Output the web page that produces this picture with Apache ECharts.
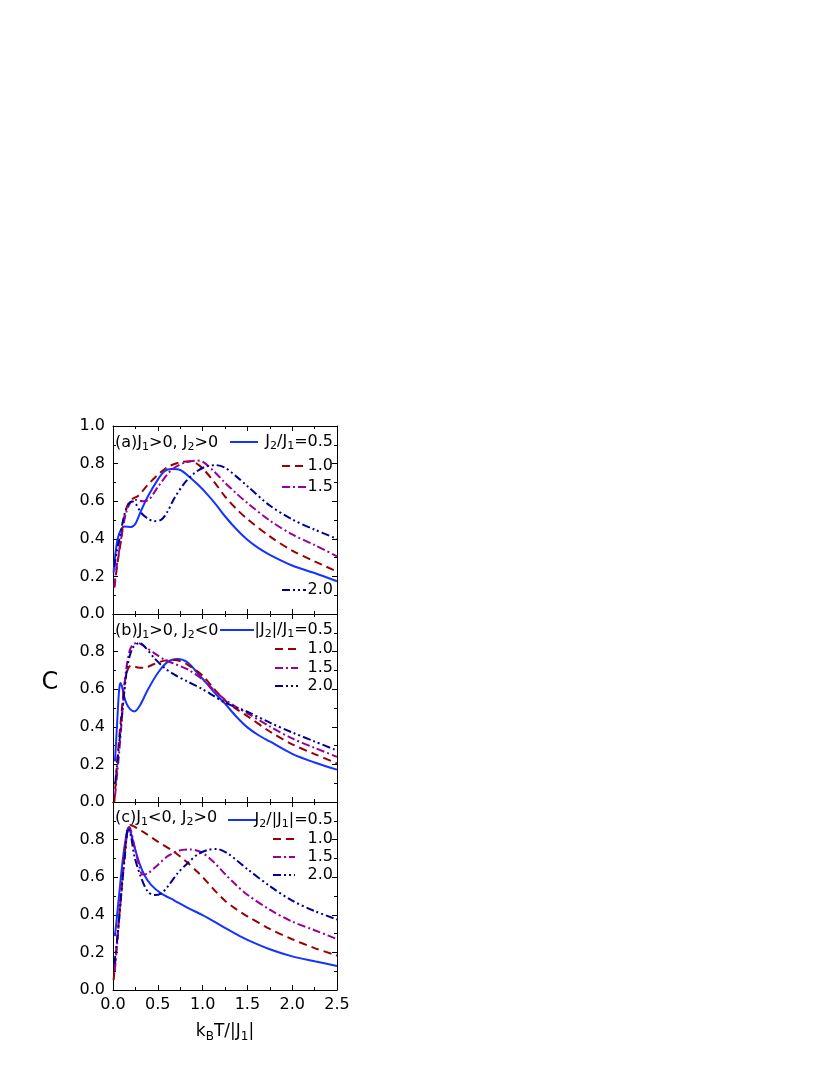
<!DOCTYPE html>
<html><head><meta charset="utf-8">
<script src="https://cdn.jsdelivr.net/npm/echarts@6/dist/echarts.min.js"></script>
<style>html,body{margin:0;padding:0;background:#fff}#c{width:830px;height:1075px}</style>
</head><body><div id="c"></div>
<script>
// ---- data: [k_B T/|J1|, C] ----
// panel (a) J1>0, J2>0
const a05 = [[0.007,0.22],[0.02,0.29],[0.05,0.395],[0.09,0.45],[0.13,0.465],[0.2,0.463],[0.25,0.48],[0.31,0.546],[0.39,0.626],[0.5,0.715],[0.575,0.759],[0.65,0.771],[0.75,0.766],[0.85,0.73],[0.95,0.687],[1.05,0.638],[1.15,0.582],[1.25,0.52],[1.375,0.452],[1.5,0.395],[1.625,0.35],[1.75,0.315],[2.0,0.258],[2.25,0.218],[2.5,0.174]];
const a10 = [[0.015,0.14],[0.05,0.27],[0.09,0.395],[0.127,0.52],[0.164,0.58],[0.22,0.613],[0.28,0.628],[0.39,0.688],[0.5,0.74],[0.61,0.782],[0.74,0.806],[0.87,0.812],[0.95,0.795],[1.0,0.775],[1.125,0.705],[1.25,0.625],[1.375,0.56],[1.5,0.505],[1.75,0.413],[2.0,0.337],[2.25,0.28],[2.5,0.226]];
const a15 = [[0.015,0.147],[0.04,0.25],[0.07,0.34],[0.108,0.449],[0.145,0.537],[0.2,0.596],[0.26,0.607],[0.33,0.6],[0.4,0.608],[0.5,0.675],[0.65,0.765],[0.8,0.805],[0.93,0.816],[1.0,0.81],[1.125,0.76],[1.25,0.698],[1.375,0.642],[1.5,0.59],[1.75,0.497],[2.0,0.423],[2.25,0.367],[2.5,0.307]];
const a20 = [[0.015,0.25],[0.04,0.33],[0.07,0.395],[0.127,0.528],[0.18,0.59],[0.22,0.598],[0.26,0.582],[0.31,0.54],[0.39,0.507],[0.46,0.494],[0.54,0.502],[0.61,0.546],[0.686,0.617],[0.8,0.697],[0.91,0.75],[1.03,0.783],[1.15,0.792],[1.25,0.778],[1.375,0.732],[1.5,0.68],[1.75,0.577],[2.0,0.503],[2.25,0.449],[2.5,0.4]];
// panel (b) J1>0, J2<0
const b05 = [[0.022,0.216],[0.045,0.41],[0.067,0.589],[0.082,0.633],[0.1,0.615],[0.125,0.56],[0.15,0.525],[0.19,0.494],[0.24,0.482],[0.295,0.509],[0.39,0.598],[0.5,0.686],[0.61,0.745],[0.72,0.76],[0.835,0.742],[0.95,0.682],[1.05,0.628],[1.15,0.573],[1.25,0.523],[1.375,0.455],[1.5,0.397],[1.625,0.355],[1.75,0.322],[2.0,0.256],[2.25,0.21],[2.5,0.172]];
const b10 = [[0.015,0.0],[0.05,0.234],[0.09,0.447],[0.127,0.624],[0.164,0.704],[0.2,0.726],[0.276,0.716],[0.35,0.714],[0.46,0.734],[0.574,0.752],[0.686,0.755],[0.835,0.73],[1.0,0.672],[1.125,0.603],[1.25,0.54],[1.375,0.495],[1.5,0.457],[1.75,0.375],[2.0,0.307],[2.25,0.255],[2.5,0.205]];
const b15 = [[0.022,0.03],[0.07,0.27],[0.108,0.5],[0.145,0.695],[0.183,0.8],[0.22,0.837],[0.276,0.846],[0.35,0.828],[0.46,0.792],[0.574,0.757],[0.686,0.735],[0.835,0.705],[1.0,0.652],[1.125,0.596],[1.25,0.545],[1.375,0.505],[1.5,0.472],[1.75,0.402],[2.0,0.338],[2.25,0.288],[2.5,0.24]];
const b20 = [[0.025,0.1],[0.09,0.41],[0.127,0.589],[0.164,0.73],[0.22,0.82],[0.295,0.846],[0.35,0.828],[0.46,0.766],[0.574,0.713],[0.686,0.677],[0.835,0.64],[1.0,0.6],[1.125,0.564],[1.25,0.528],[1.375,0.503],[1.5,0.48],[1.75,0.422],[2.0,0.37],[2.25,0.322],[2.5,0.274]];
// panel (c) J1<0, J2>0
const c05 = [[0.022,0.287],[0.07,0.514],[0.108,0.69],[0.145,0.816],[0.17,0.865],[0.2,0.833],[0.24,0.762],[0.295,0.674],[0.35,0.612],[0.425,0.559],[0.537,0.514],[0.686,0.476],[0.835,0.437],[1.0,0.398],[1.125,0.365],[1.25,0.33],[1.375,0.297],[1.5,0.267],[1.75,0.217],[2.0,0.179],[2.25,0.153],[2.5,0.128]];
const c10 = [[0.007,0.053],[0.05,0.284],[0.09,0.514],[0.127,0.709],[0.164,0.851],[0.194,0.878],[0.24,0.869],[0.35,0.837],[0.5,0.789],[0.65,0.745],[0.8,0.69],[0.95,0.625],[1.05,0.575],[1.15,0.522],[1.25,0.475],[1.375,0.43],[1.5,0.392],[1.75,0.325],[2.0,0.27],[2.25,0.223],[2.5,0.183]];
const c15 = [[0.02,0.1],[0.05,0.27],[0.09,0.5],[0.127,0.7],[0.16,0.84],[0.183,0.869],[0.21,0.83],[0.24,0.762],[0.295,0.656],[0.33,0.614],[0.388,0.62],[0.5,0.665],[0.61,0.712],[0.74,0.742],[0.86,0.748],[0.985,0.733],[1.125,0.68],[1.25,0.617],[1.375,0.558],[1.5,0.507],[1.75,0.427],[2.0,0.364],[2.25,0.318],[2.5,0.271]];
const c20 = [[0.015,0.14],[0.05,0.284],[0.09,0.5],[0.13,0.7],[0.17,0.86],[0.2,0.82],[0.24,0.709],[0.31,0.603],[0.388,0.523],[0.46,0.505],[0.54,0.514],[0.61,0.55],[0.72,0.62],[0.835,0.676],[0.947,0.722],[1.06,0.745],[1.16,0.75],[1.275,0.728],[1.39,0.686],[1.5,0.643],[1.75,0.553],[2.0,0.475],[2.25,0.42],[2.5,0.375]];

const panelData = [[a05,a10,a15,a20],[b05,b10,b15,b20],[c05,c10,c15,c20]];
const panelTitles = ['(a)J{s|1}>0, J{s|2}>0','(b)J{s|1}>0, J{s|2}<0','(c)J{s|1}<0, J{s|2}>0'];
const legendFirst = ['J{s|2}/J{s|1}=0.5','|J{s|2}|/J{s|1}=0.5','J{s|2}/|J{s|1}|=0.5'];
const ratioLabels = ['0.5','1.0','1.5','2.0'];

// ---- styles / layout ----
const FONT = 'DejaVu Sans, Liberation Sans, Arial, sans-serif';
const styles = [
  {color:'#1433ff', dash:'solid'},
  {color:'#990000', dash:[8,5]},
  {color:'#990099', dash:[8,3,2,3]},
  {color:'#000099', dash:[8,3,2,3,2,3]}
];
const L = 113, W = 224, H = 188, tops = [426, 614, 802];
const rich = {s:{fontSize:11, fontFamily:FONT, padding:[9,0,0,0], color:'#000'}};
const richBig = {s:{fontSize:12, fontFamily:FONT, padding:[10,0,0,0], color:'#000'}};

const grids = [], xAxes = [], yAxes = [], series = [];
const black = {color:'#000', width:1};
for (let i = 0; i < 3; i++) {
  grids.push({left:L, top:tops[i], width:W, height:H, outerBoundsMode:'none', containLabel:false});
  const tickCfg = {inside:true, length:5, lineStyle:black};
  const minorCfg = {show:true, splitNumber:2, length:3, lineStyle:black};
  xAxes.push({type:'value', gridIndex:i, position:'bottom', min:0, max:2.5, interval:0.5,
    axisLine:{onZero:false, lineStyle:black}, axisTick:tickCfg, minorTick:minorCfg,
    splitLine:{show:false}, minorSplitLine:{show:false},
    axisLabel:{show:i===2, color:'#000', fontSize:16, fontFamily:FONT, margin:7, formatter:v=>v.toFixed(1)},
    name: i===2 ? 'k{s|B}T/|J{s|1}|' : '', nameLocation:'middle', nameGap:31,
    nameTextStyle:{color:'#000', fontSize:17, fontFamily:FONT, rich:richBig}});
  xAxes.push({type:'value', gridIndex:i, position:'top', min:0, max:2.5, interval:0.5,
    axisLine:{onZero:false, lineStyle:black}, axisTick:tickCfg, minorTick:minorCfg,
    splitLine:{show:false}, axisLabel:{show:false}});
  yAxes.push({type:'value', gridIndex:i, position:'left', min:0, max:1, interval:0.2,
    axisLine:{onZero:false, lineStyle:black}, axisTick:tickCfg, minorTick:minorCfg,
    splitLine:{show:false}, minorSplitLine:{show:false},
    axisLabel:{color:'#000', fontSize:16, fontFamily:FONT, margin:8, showMaxLabel:i===0, showMinLabel:true, formatter:v=>v.toFixed(1)}});
  yAxes.push({type:'value', gridIndex:i, position:'right', min:0, max:1, interval:0.2,
    axisLine:{onZero:false, lineStyle:black}, axisTick:tickCfg, minorTick:minorCfg,
    splitLine:{show:false}, axisLabel:{show:false}});
  panelData[i].forEach((d, k) => {
    series.push({type:'line', xAxisIndex:2*i, yAxisIndex:2*i, data:d, showSymbol:false, symbol:'none',
      smooth:0.3, silent:true, animation:false, z:3+k,
      lineStyle:{color:styles[k].color, width:2, type:styles[k].dash, cap:'butt'}});
  });
}

// ---- in-panel labels and legends (graphic) ----
const graphics = [];
function txt(x, y, text, align, size) {
  graphics.push({type:'text', x:x, y:y, z:20, style:{text:text, font: (size||16)+'px '+FONT, fill:'#000',
    align:align, textAlign:align, verticalAlign:'middle', textVerticalAlign:'middle', rich:rich}});
}
function sample(x1, x2, y, k) {
  const st = styles[k];
  graphics.push({type:'line', z:20, shape:{x1:x1, y1:y, x2:x2, y2:y},
    style:{stroke:st.color, lineWidth:2, lineDash: Array.isArray(st.dash) ? st.dash : null, lineCap:'butt'}});
}
const titleY = [443, 631, 818];
panelTitles.forEach((t, i) => txt(115, titleY[i], t, 'left', 16));
const legendRows = [
  [[442,230,258],[466,282,306],[487,282,306],[590,282,306]],
  [[630,220,254],[649,275,298],[668,275,298],[686,275,298]],
  [[820,228,257],[839,273,295],[857,273,295],[875,273,295]]
];
legendRows.forEach((rows, i) => rows.forEach((r, k) => {
  sample(r[1], r[2], r[0], k);
  txt(333, r[0], k === 0 ? legendFirst[i] : ratioLabels[k], 'right', 16);
}));
// y-axis title
graphics.push({type:'text', x:50, y:683, z:20, style:{text:'C', font:'24px '+FONT, fill:'#000',
  align:'center', textAlign:'center', verticalAlign:'middle', textVerticalAlign:'middle'}});

const chart = echarts.init(document.getElementById('c'), null, {renderer:'canvas'});
chart.setOption({
  animation:false, backgroundColor:'#fff',
  textStyle:{fontFamily:FONT},
  grid:grids, xAxis:xAxes, yAxis:yAxes, series:series, graphic:graphics
});
</script></body></html>
